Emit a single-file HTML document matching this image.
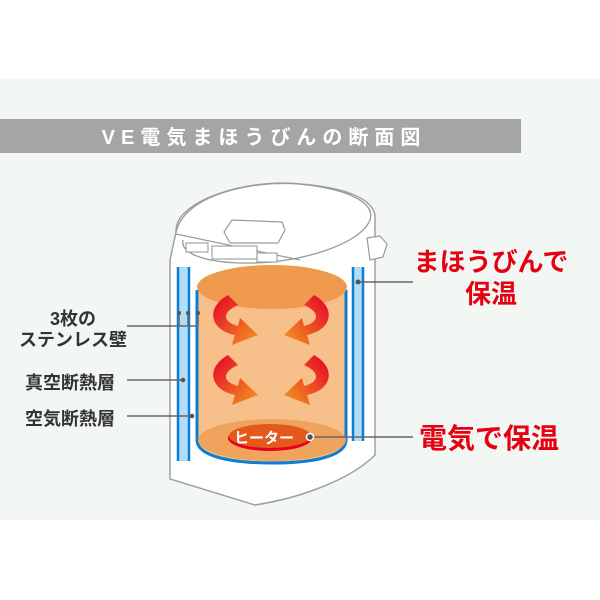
<!DOCTYPE html>
<html><head><meta charset="utf-8"><style>
html,body{margin:0;padding:0;background:#fff;}
body{width:600px;height:600px;position:relative;overflow:hidden;font-family:"Liberation Sans","Noto Sans CJK JP",sans-serif;}
.t{position:absolute;white-space:nowrap;}
</style></head><body>
<svg width="600" height="600" style="position:absolute;left:0;top:0">
<defs>
<linearGradient id="ag" x1="0" y1="0" x2="1" y2="1">
<stop offset="0" stop-color="#e5002a"/><stop offset="1" stop-color="#f39a1e"/></linearGradient>
<linearGradient id="ag2" x1="1" y1="0" x2="0" y2="1">
<stop offset="0" stop-color="#e5002a"/><stop offset="1" stop-color="#f39a1e"/></linearGradient>
</defs>
<rect x="0" y="79" width="600" height="441" fill="#f3f7f4"/>
<rect x="0" y="119" width="521" height="34" fill="#a5a5a5"/>
<text x="264" y="144" text-anchor="middle" fill="#fff" font-size="20" font-weight="bold" letter-spacing="6" font-family="Liberation Sans,Noto Sans CJK JP,sans-serif">VE電気まほうびんの断面図</text>
<!-- pot body -->
<path d="M176,232 C185,195 250,180 300,184 C350,188 372,200 375,215 L375,455 C350,480 300,498 255,505 L170,479 L170,260 Z" fill="#fff" stroke="#a0a0a0" stroke-width="1.5"/>
<!-- lid -->
<path d="M176,232 C174,200 250,178 300,184 C355,190 375,205 370,220 C360,245 300,262 255,263 C210,264 180,255 183,240" fill="none" stroke="#9a9a9a" stroke-width="1.3"/>
<path d="M176,234 L300,260" stroke="#9a9a9a" stroke-width="1.2"/>
<path d="M224,232 L232,220 L282,222 L285,230 L278,243 L230,243 Z" fill="#fff" stroke="#9a9a9a" stroke-width="1.2"/>
<rect x="186" y="243" width="22" height="9" fill="#fff" stroke="#9a9a9a" stroke-width="1.1"/>
<rect x="212" y="246" width="45" height="13" fill="#fff" stroke="#9a9a9a" stroke-width="1.1"/>
<rect x="257" y="253" width="20" height="9" fill="#fff" stroke="#9a9a9a" stroke-width="1.1"/>
<path d="M367,238 L380,236 L387,244 L383,257 L370,260 Z" fill="#fff" stroke="#9a9a9a" stroke-width="1.2"/>
<!-- left stripes -->
<rect x="177" y="267" width="13" height="194" fill="#b3dcf6"/>
<line x1="178" y1="267" x2="178" y2="461" stroke="#0a7fd4" stroke-width="2.5"/>
<line x1="189" y1="267" x2="189" y2="461" stroke="#0a7fd4" stroke-width="2.5"/>
<!-- right stripe -->
<rect x="352" y="267" width="12" height="174" fill="#b3dcf6"/>
<line x1="353" y1="267" x2="353" y2="441" stroke="#0a7fd4" stroke-width="2.5"/>
<line x1="363" y1="267" x2="363" y2="441" stroke="#0a7fd4" stroke-width="2.5"/>
<!-- inner container -->
<path d="M198,287 L198,440 C198,455 230,462 272,462 C314,462 345,455 345,440 L345,287 Z" fill="#f7c08a"/>
<path d="M197,290 L197,440 C197,456 230,463 272,463 C314,463 346,456 346,440 L346,290" fill="none" stroke="#0a7fd4" stroke-width="3"/>
<ellipse cx="272" cy="440" rx="74" ry="21" fill="#f0a35c"/>
<ellipse cx="272" cy="287" rx="75" ry="22" fill="#ef9a4f"/>
<ellipse cx="270" cy="438" rx="42" ry="13" fill="#e8001e"/>
<ellipse cx="270" cy="436" rx="41" ry="12" fill="#e4581c"/>
<!-- arrows -->
<g>
<path d="M228,295 C205,308 210,330 235,335 L232,345 L258,335 L240,318 L238,326 C222,322 222,312 238,305 Z" fill="url(#ag)"/>
<path d="M228,355 C205,368 210,390 235,395 L232,405 L258,395 L240,378 L238,386 C222,382 222,372 238,365 Z" fill="url(#ag)"/>
<path d="M314,295 C337,308 332,330 307,335 L310,345 L284,335 L302,318 L304,326 C320,322 320,312 304,305 Z" fill="url(#ag2)"/>
<path d="M314,355 C337,368 332,390 307,395 L310,405 L284,395 L302,378 L304,386 C320,382 320,372 304,365 Z" fill="url(#ag2)"/>
</g>
<!-- leader lines -->
<g stroke="#666" stroke-width="1.5" fill="none">
<path d="M127,326 L198,326 M179,326 L179,313 M188,326 L188,313 M198,326 L198,313"/>
<path d="M127,380 L183,380"/>
<path d="M127,416 L192,416"/>
<path d="M358,282 L413,282"/>
<path d="M310,437 L413,437"/>
</g>
<g fill="#555"><circle cx="179" cy="313" r="2"/><circle cx="188" cy="313" r="2"/><circle cx="198" cy="313" r="2"/>
<circle cx="183" cy="380" r="2.3"/><circle cx="192" cy="416" r="2.3"/><circle cx="358" cy="282" r="2.5"/></g>
<circle cx="310" cy="437" r="3.5" fill="#555" stroke="#fff" stroke-width="1.5"/>
<text x="264" y="443" text-anchor="middle" fill="#fff" font-size="15" font-weight="bold" font-family="Liberation Sans,Noto Sans CJK JP,sans-serif">ヒーター</text>
</svg>
<div class="t" style="left:13px;width:120px;text-align:center;top:309px;font-size:18px;line-height:21px;color:#333;font-weight:bold">3枚の<br>ステンレス壁</div>
<div class="t" style="left:25px;top:369px;font-size:18px;color:#333;font-weight:bold">真空断熱層</div>
<div class="t" style="left:25px;top:405px;font-size:18px;color:#333;font-weight:bold">空気断熱層</div>
<div class="t" style="left:410px;width:162px;text-align:center;top:246px;font-size:26px;line-height:32px;color:#e60012;font-weight:bold">まほうびんで<br>保温</div>
<div class="t" style="left:419px;top:417px;font-size:28px;color:#e60012;font-weight:bold">電気で保温</div>
</body></html>
